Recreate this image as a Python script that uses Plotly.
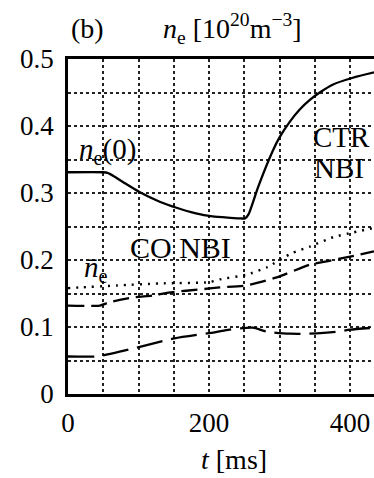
import plotly.graph_objects as go

# n_e(0) central density (solid)
t_n0 = [0, 50, 56, 65, 80, 102, 130, 154, 180, 205, 230, 245, 251, 256, 270, 290, 300, 315, 329, 343, 357, 376, 404, 434]
n_n0 = [0.331, 0.331, 0.330, 0.325, 0.315, 0.301, 0.287, 0.278, 0.270, 0.265, 0.263, 0.262, 0.262, 0.268, 0.31, 0.362, 0.383, 0.407, 0.425, 0.439, 0.450, 0.462, 0.472, 0.480]

# dotted curve
t_dot = [0, 16, 70, 130, 201, 215, 253, 282, 317, 343, 376, 404, 434]
n_dot = [0.158, 0.159, 0.162, 0.165, 0.167, 0.171, 0.178, 0.189, 0.210, 0.220, 0.234, 0.241, 0.248]

# upper dashed curve (line-averaged density)
t_bar = [0, 45, 59, 92, 120, 148, 187, 215, 253, 296, 343, 367, 400, 434]
n_bar = [0.132, 0.132, 0.137, 0.144, 0.147, 0.152, 0.156, 0.159, 0.162, 0.174, 0.193, 0.198, 0.205, 0.213]

# lower dashed curve
t_low = [0, 40, 56, 97, 151, 208, 229, 262, 282, 315, 339, 381, 400, 434]
n_low = [0.056, 0.056, 0.059, 0.069, 0.083, 0.092, 0.096, 0.099, 0.093, 0.090, 0.090, 0.093, 0.096, 0.099]

x_ticks = [0, 200, 400]
x_tick_text = ["0", "200", "400"]
y_ticks = [0, 0.1, 0.2, 0.3, 0.4, 0.5]
y_tick_text = ["0", "0.1", "0.2", "0.3", "0.4", "0.5"]

FONT = "Liberation Serif, DejaVu Serif, serif"

fig = go.Figure()
fig.add_trace(go.Scatter(x=t_n0, y=n_n0, mode="lines", line=dict(color="black", width=2.3, shape="spline", smoothing=0.6)))
fig.add_trace(go.Scatter(x=t_dot, y=n_dot, mode="lines", line=dict(color="black", width=2.4, dash="2px,6px", shape="spline", smoothing=0.6)))
fig.add_trace(go.Scatter(x=t_bar, y=n_bar, mode="lines", line=dict(color="black", width=2.3, dash="16px,7px", shape="spline", smoothing=0.6)))
fig.add_trace(go.Scatter(x=t_low, y=n_low, mode="lines", line=dict(color="black", width=2.3, dash="26px,9px", shape="spline", smoothing=0.6)))

grid = dict(showgrid=True, gridcolor="#222", gridwidth=1.6, griddash="dot")

fig.update_layout(
    width=374, height=478,
    margin=dict(l=68, r=0, t=59, b=84),
    paper_bgcolor="white", plot_bgcolor="white",
    showlegend=False,
    font=dict(family=FONT, color="black", size=27),
    xaxis=dict(range=[0, 434], tickvals=x_ticks, ticktext=x_tick_text,
               showline=True, linecolor="black", linewidth=2.8, mirror=True,
               ticks="", zeroline=False, ticklabelstandoff=3,
               minor=dict(dtick=50, tick0=0, **grid), **grid,
               tickfont=dict(family=FONT, size=27, color="black")),
    yaxis=dict(range=[0, 0.5], tickvals=y_ticks, ticktext=y_tick_text,
               showline=True, linecolor="black", linewidth=2.8, mirror=False,
               ticks="", zeroline=False, ticklabelstandoff=6,
               minor=dict(dtick=0.05, tick0=0, **grid), **grid,
               tickfont=dict(family=FONT, size=27, color="black")),
)

anns = [
    dict(x=56, y=0.362, text="<i>n</i><sub>e</sub>(0)", xanchor="center", yanchor="middle", size=29),
    dict(x=345, y=0.383, text="CTR", xanchor="left", yanchor="middle", size=29),
    dict(x=346, y=0.337, text="NBI", xanchor="left", yanchor="middle", size=29),
    dict(x=160, y=0.219, text="CO NBI", xanchor="center", yanchor="middle", size=30),
    dict(x=20, y=0.186, text="<i>n̄</i><sub>e</sub>", xanchor="left", yanchor="middle", size=29),
]
for a in anns:
    fig.add_annotation(x=a["x"], y=a["y"], xref="x", yref="y", text=a["text"], showarrow=False,
                       xanchor=a["xanchor"], yanchor=a["yanchor"],
                       font=dict(family=FONT, size=a["size"], color="black"))

# outside labels
fig.add_annotation(x=28, y=1.09, xref="x", yref="paper", text="(b)", showarrow=False,
                   xanchor="center", yanchor="middle", font=dict(family=FONT, size=28, color="black"))
fig.add_annotation(x=233, y=1.09, xref="x", yref="paper",
                   text="<i>n</i><sub>e</sub> [10<sup>20</sup>m<sup>−3</sup>]", showarrow=False,
                   xanchor="center", yanchor="middle", font=dict(family=FONT, size=28, color="black"))
fig.add_annotation(x=236, y=-0.195, xref="x", yref="paper", text="<i>t</i> [ms]", showarrow=False,
                   xanchor="center", yanchor="middle", font=dict(family=FONT, size=28, color="black"))

fig.write_html("out.html")
